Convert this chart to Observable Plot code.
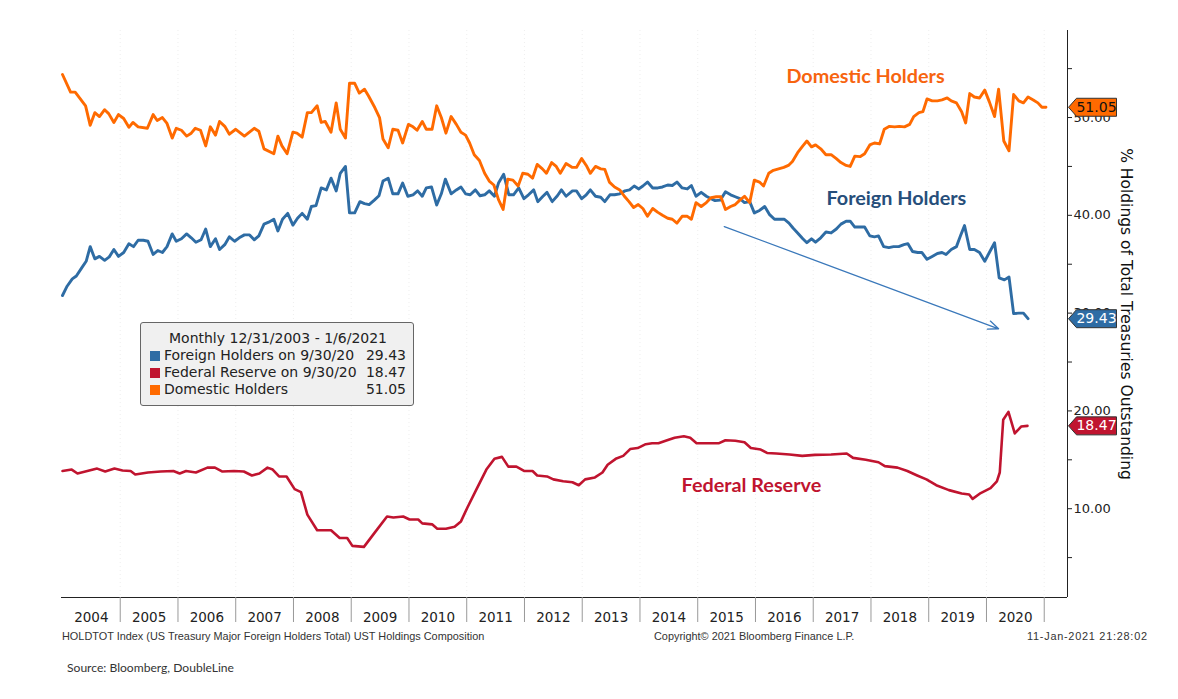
<!DOCTYPE html>
<html>
<head>
<meta charset="utf-8">
<script src="https://cdn.jsdelivr.net/npm/d3@7"></script>
<script src="https://cdn.jsdelivr.net/npm/@observablehq/plot@0.6"></script>
<style>
  body { margin: 0; background: #fff; font-family: "DejaVu Sans", sans-serif; }
  #wrap { position: relative; width: 1178px; height: 699px; overflow: hidden; }
  #legend { position: absolute; left: 140px; top: 322px; width: 256px; padding: 7px 7px 7px 9px;
            background: #f0f0f0; border: 1px solid #666; border-radius: 3px; font-size: 14px; color: #222; line-height: 17px; }
  #legend .title { text-align: center; }
  #legend .row { display: flex; align-items: center; }
  #legend .sw { width: 10px; height: 10px; margin-right: 4px; flex: none; }
  #legend .name { flex: 1; white-space: nowrap; }
  #legend .val { text-align: right; }
  .foot { position: absolute; font-family: "Liberation Sans", sans-serif; font-size: 10.9px; color: #333; white-space: nowrap; }
  .src { position: absolute; font-family: "Lato", sans-serif; font-size: 12.1px; color: #333; white-space: nowrap; }
</style>
</head>
<body>
<div id="wrap"></div>
<script>
// ---------- data (decimal year, % of total treasuries outstanding) ----------
const foreignT = [2004.00,2004.08,2004.17,2004.24,2004.33,2004.41,2004.48,2004.56,2004.64,2004.73,2004.81,2004.89,2004.97,2005.06,2005.15,2005.23,2005.31,2005.40,2005.48,2005.57,2005.65,2005.73,2005.81,2005.90,2005.97,2006.06,2006.15,2006.23,2006.31,2006.40,2006.48,2006.56,2006.65,2006.72,2006.81,2006.89,2006.98,2007.06,2007.15,2007.24,2007.32,2007.40,2007.49,2007.57,2007.66,2007.73,2007.81,2007.90,2007.99,2008.07,2008.15,2008.24,2008.31,2008.39,2008.48,2008.57,2008.65,2008.74,2008.81,2008.90,2008.97,2009.06,2009.15,2009.23,2009.31,2009.40,2009.48,2009.55,2009.64,2009.72,2009.81,2009.89,2009.98,2010.07,2010.15,2010.23,2010.30,2010.39,2010.48,2010.56,2010.63,2010.73,2010.82,2010.90,2010.98,2011.06,2011.15,2011.23,2011.31,2011.39,2011.48,2011.55,2011.64,2011.73,2011.81,2011.90,2011.99,2012.07,2012.16,2012.23,2012.32,2012.39,2012.48,2012.57,2012.64,2012.72,2012.83,2012.90,2012.99,2013.07,2013.14,2013.23,2013.32,2013.39,2013.48,2013.56,2013.65,2013.74,2013.82,2013.90,2013.98,2014.05,2014.13,2014.22,2014.31,2014.39,2014.48,2014.56,2014.64,2014.73,2014.82,2014.89,2014.97,2015.06,2015.15,2015.23,2015.30,2015.39,2015.48,2015.57,2015.65,2015.73,2015.81,2015.90,2015.98,2016.07,2016.16,2016.24,2016.33,2016.42,2016.50,2016.58,2016.65,2016.73,2016.82,2016.89,2016.97,2017.04,2017.13,2017.22,2017.31,2017.40,2017.48,2017.57,2017.64,2017.72,2017.81,2017.89,2017.98,2018.06,2018.13,2018.22,2018.31,2018.39,2018.48,2018.57,2018.64,2018.72,2018.81,2018.88,2018.97,2019.06,2019.15,2019.23,2019.30,2019.39,2019.48,2019.55,2019.62,2019.71,2019.79,2019.88,2019.97,2020.05,2020.14,2020.22,2020.31,2020.39,2020.47,2020.56,2020.64,2020.72];
const foreignV = [31.8,32.75,33.5,33.8,34.6,35.3,36.8,35.55,35.8,35.4,35.75,36.5,35.8,36.2,37.1,36.8,37.45,37.45,37.35,36.0,36.4,36.2,36.8,38.1,37.35,37.6,38.1,37.7,37.25,37.5,38.6,36.8,37.6,36.5,37.0,37.8,37.35,37.7,38.0,38.0,37.5,37.9,39.1,39.3,39.6,38.4,39.6,40.2,39.0,39.7,40.2,39.6,40.9,41.0,42.8,42.6,43.8,42.5,44.3,45.0,40.25,40.25,41.4,41.2,41.1,41.55,42.0,43.5,43.8,42.2,42.2,43.3,41.95,42.1,42.5,41.95,42.8,42.9,41.05,42.2,43.7,42.2,42.6,42.9,42.2,42.1,42.6,42.0,42.1,42.5,41.95,43.3,44.2,42.1,42.1,42.8,41.7,42.1,42.6,41.4,41.95,42.35,41.4,42.0,42.6,41.95,42.5,42.5,41.7,42.1,42.6,41.95,41.85,41.4,42.1,42.1,42.2,42.5,42.6,43.0,42.7,43.0,43.4,42.8,42.8,42.9,43.1,43.05,43.4,42.8,42.7,43.05,41.95,42.35,41.95,41.7,41.5,41.55,42.4,42.1,41.9,41.7,41.3,41.4,40.25,40.5,40.9,40.1,39.6,39.6,39.6,39.2,38.7,38.2,37.6,37.2,37.6,37.25,37.7,38.3,38.2,38.6,39.1,39.4,39.4,38.8,38.8,38.8,37.9,37.8,37.9,36.8,36.7,36.8,36.8,37.0,37.1,36.3,36.2,36.2,35.5,35.8,36.1,36.2,36.0,36.5,36.8,37.9,38.95,36.5,36.5,36.2,35.3,36.2,37.2,33.6,33.4,33.7,29.95,30.0,30.0,29.43];

const domesticT = [2004.00,2004.14,2004.22,2004.40,2004.48,2004.56,2004.64,2004.73,2004.80,2004.89,2004.97,2005.06,2005.15,2005.22,2005.31,2005.47,2005.57,2005.64,2005.73,2005.81,2005.90,2005.97,2006.06,2006.15,2006.23,2006.30,2006.39,2006.48,2006.56,2006.65,2006.72,2006.81,2006.89,2007.00,2007.15,2007.32,2007.40,2007.49,2007.66,2007.73,2007.80,2007.89,2007.99,2008.06,2008.15,2008.24,2008.31,2008.41,2008.48,2008.55,2008.65,2008.74,2008.81,2008.90,2008.97,2009.06,2009.14,2009.23,2009.30,2009.41,2009.49,2009.55,2009.64,2009.72,2009.81,2009.89,2009.99,2010.07,2010.14,2010.23,2010.30,2010.40,2010.48,2010.56,2010.64,2010.73,2010.82,2010.90,2010.98,2011.05,2011.13,2011.22,2011.31,2011.39,2011.47,2011.55,2011.63,2011.71,2011.80,2011.89,2011.97,2012.06,2012.14,2012.22,2012.31,2012.38,2012.47,2012.55,2012.62,2012.72,2012.83,2012.90,2012.99,2013.07,2013.14,2013.23,2013.32,2013.39,2013.47,2013.56,2013.65,2013.73,2013.81,2013.89,2013.97,2014.05,2014.13,2014.22,2014.31,2014.39,2014.48,2014.56,2014.64,2014.73,2014.82,2014.89,2014.97,2015.06,2015.15,2015.23,2015.32,2015.40,2015.48,2015.57,2015.65,2015.73,2015.81,2015.90,2015.98,2016.07,2016.14,2016.23,2016.31,2016.40,2016.49,2016.57,2016.64,2016.73,2016.82,2016.89,2016.97,2017.04,2017.13,2017.22,2017.31,2017.40,2017.48,2017.57,2017.64,2017.72,2017.81,2017.89,2017.98,2018.06,2018.15,2018.23,2018.32,2018.41,2018.49,2018.58,2018.67,2018.74,2018.83,2018.90,2018.97,2019.06,2019.15,2019.23,2019.32,2019.39,2019.48,2019.57,2019.64,2019.71,2019.79,2019.88,2019.97,2020.05,2020.14,2020.21,2020.30,2020.39,2020.47,2020.56,2020.64,2020.72,2020.81,2020.89,2020.96,2021.03];
const domesticV = [54.4,52.6,52.6,51.2,49.2,50.5,50.1,50.8,50.4,49.5,50.3,49.9,49.0,49.5,49.05,48.9,50.3,49.7,50.0,49.4,47.9,48.9,48.7,48.1,48.4,48.9,48.7,47.1,49.05,48.2,49.6,49.1,48.3,48.8,48.1,48.9,48.6,46.8,46.3,48.1,47.1,46.3,48.5,48.4,48.0,50.5,50.5,51.2,49.5,49.6,48.5,51.5,48.8,47.9,53.5,53.5,52.5,52.9,52.2,51.0,50.0,47.8,46.9,48.8,48.7,47.4,49.3,49.05,48.7,49.6,48.8,48.8,51.2,50.0,48.4,50.1,49.3,48.5,48.2,47.4,46.2,45.6,44.3,43.5,43.1,41.6,40.6,43.7,43.6,43.0,44.3,44.2,43.8,45.2,44.75,44.3,45.4,45.0,44.3,45.3,44.9,44.9,45.8,45.1,44.3,45.0,44.75,44.7,43.4,42.9,42.6,41.95,41.4,40.8,41.1,40.7,39.9,40.7,40.3,40.0,39.7,39.6,39.2,39.9,39.9,39.6,41.3,40.9,41.3,41.8,41.9,41.9,40.6,40.9,41.1,41.55,41.95,41.3,43.6,43.4,43.0,44.3,44.6,44.75,44.9,45.1,45.5,46.4,47.1,47.6,47.0,47.2,46.8,46.2,46.2,45.8,45.4,45.1,45.0,46.05,46.0,46.3,47.2,47.4,47.3,48.8,49.1,49.05,49.1,49.05,49.3,50.1,50.5,50.6,51.9,51.7,51.7,51.8,52.0,51.7,51.5,50.6,49.45,52.45,52.1,52.0,52.8,51.6,50.1,52.9,47.6,46.6,52.35,51.7,51.5,52.1,51.8,51.5,51.05,51.05];

const fedT = [2004.00,2004.16,2004.26,2004.43,2004.60,2004.74,2004.90,2005.04,2005.18,2005.26,2005.48,2005.70,2005.92,2006.03,2006.14,2006.31,2006.51,2006.64,2006.77,2006.97,2007.14,2007.28,2007.41,2007.55,2007.64,2007.75,2007.88,2008.02,2008.13,2008.24,2008.41,2008.65,2008.80,2008.93,2009.02,2009.22,2009.40,2009.62,2009.73,2009.90,2010.01,2010.16,2010.23,2010.40,2010.49,2010.64,2010.79,2010.90,2011.01,2011.17,2011.34,2011.48,2011.61,2011.72,2011.86,2012.00,2012.14,2012.22,2012.39,2012.50,2012.67,2012.83,2012.94,2013.05,2013.22,2013.35,2013.44,2013.58,2013.71,2013.83,2013.96,2014.10,2014.21,2014.32,2014.47,2014.60,2014.76,2014.87,2014.98,2015.15,2015.37,2015.48,2015.65,2015.81,2015.92,2016.09,2016.20,2016.36,2016.59,2016.81,2017.03,2017.31,2017.58,2017.69,2017.91,2018.13,2018.24,2018.46,2018.63,2018.80,2018.96,2019.13,2019.35,2019.57,2019.70,2019.76,2019.90,2020.07,2020.18,2020.23,2020.29,2020.38,2020.49,2020.60,2020.71];
const fedV = [13.85,14.0,13.6,13.85,14.1,13.8,14.1,13.9,13.85,13.5,13.7,13.8,13.85,13.6,13.85,13.7,14.2,14.2,13.8,13.85,13.8,13.4,13.6,14.2,14.0,13.3,13.3,12.0,11.7,9.4,7.8,7.8,7.0,7.0,6.2,6.1,7.5,9.2,9.1,9.2,8.9,8.9,8.5,8.4,7.95,7.95,8.15,8.7,10.1,12.0,14.0,15.1,15.3,14.3,14.3,13.85,13.85,13.4,13.3,13.0,12.8,12.7,12.4,13.0,13.2,13.7,14.5,15.1,15.4,16.1,16.2,16.6,16.7,16.7,17.0,17.25,17.4,17.25,16.7,16.7,16.7,17.0,16.95,16.8,16.2,16.05,15.7,15.65,15.55,15.4,15.5,15.55,15.65,15.2,15.0,14.75,14.35,14.2,13.85,13.4,13.0,12.4,11.9,11.55,11.45,11.0,11.6,12.1,12.8,13.7,19.1,19.9,17.7,18.4,18.47];

const seriesNames  = ["Foreign Holders on 9/30/20", "Federal Reserve on 9/30/20", "Domestic Holders"];
const seriesLast   = [29.43, 18.47, 51.05];
const seriesColors = ["#2e6ca4", "#c0142f", "#ff6a00"];
const tagTextColors = ["#ffffff", "#ffffff", "#111111"];

const yearLabels = [2004,2005,2006,2007,2008,2009,2010,2011,2012,2013,2014,2015,2016,2017,2018,2019,2020];
const yearBounds = [2005,2006,2007,2008,2009,2010,2011,2012,2013,2014,2015,2016,2017,2018,2019,2020,2021];
const yMajor = [10, 20, 30, 40, 50];
const yMinor = [5, 15, 25, 35, 45, 55];

const notes = [
  {x: 2017.905, y: 54.19, text: "Domestic Holders", color: "#f7640f"},
  {x: 2018.44,  y: 41.72, text: "Foreign Holders",  color: "#264e7a"},
  {x: 2015.93,  y: 12.37, text: "Federal Reserve",  color: "#c0142f"}
];
const trendArrow = [{x1: 2015.46, y1: 38.85, x2: 2020.21, y2: 28.4}];

const legendTitle = "Monthly 12/31/2003 - 1/6/2021";
const yTitle = "% Holdings of Total Treasuries Outstanding";
const footLeft = "HOLDTOT Index (US Treasury Major Foreign Holders Total) UST Holdings Composition";
const footMid = "Copyright\u00A9 2021 Bloomberg Finance L.P.";
const footRight = "11-Jan-2021 21:28:02";
const sourceText = "Source: Bloomberg, DoubleLine";

// ---------- build ----------
const toRows = (T, V) => T.map((t, i) => ({t, v: V[i]}));
const foreign = toRows(foreignT, foreignV);
const domestic = toRows(domesticT, domesticV);
const fed = toRows(fedT, fedV);
const tags = seriesLast.map((v, i) => ({v, fill: seriesColors[i], tc: tagTextColors[i]}));

const xMin = 2003.983, xMax = 2021.403;
const yMin = 0.92, yMax = 58.9;

const tagShape = {
  draw(ctx) {
    ctx.moveTo(0, 0);
    ctx.lineTo(8, -9);
    ctx.lineTo(48, -9);
    ctx.lineTo(48, 9);
    ctx.lineTo(8, 9);
    ctx.closePath();
  }
};

const chart = Plot.plot({
  width: 1178,
  height: 630,
  marginTop: 30,
  marginBottom: 33,
  marginLeft: 61,
  marginRight: 111,
  x: {domain: [xMin, xMax], label: null},
  y: {domain: [yMin, yMax], label: null},
  color: {type: "identity"},
  style: {fontFamily: "DejaVu Sans", fontSize: "13px", color: "#222", background: "transparent", overflow: "visible"},
  marks: [
    Plot.gridX(yearBounds, {stroke: "#e0e0e0", strokeOpacity: 0.5, strokeDasharray: "1,3"}),
    Plot.line(foreign, {x: "t", y: "v", stroke: seriesColors[0], strokeWidth: 2.9, strokeLinejoin: "round"}),
    Plot.line(fed, {x: "t", y: "v", stroke: seriesColors[1], strokeWidth: 2.6, strokeLinejoin: "round"}),
    Plot.line(domestic, {x: "t", y: "v", stroke: seriesColors[2], strokeWidth: 2.9, strokeLinejoin: "round"}),
    Plot.arrow(trendArrow, {x1: "x1", y1: "y1", x2: "x2", y2: "y2", stroke: "#3a78ba", strokeWidth: 1.3, headLength: 13, headAngle: 45}),
    Plot.text(notes, {x: "x", y: "y", text: "text", fill: "color", fontFamily: "Lato", fontWeight: "bold", fontSize: 19.8}),
    Plot.ruleY([yMin], {stroke: "#222", strokeWidth: 1}),
    Plot.ruleX([xMax], {stroke: "#222", strokeWidth: 1}),
    Plot.axisX(yearBounds, {tickSize: 25, tickFormat: () => "", stroke: "#999", label: null}),
    Plot.axisX(yearLabels.map(y => y + 0.5), {tickSize: 0, tickPadding: 15, tickFormat: d => String(Math.floor(d)), fontSize: 13.5, fill: "#222", label: null}),
    Plot.axisY(yMajor, {anchor: "right", tickSize: 4, tickPadding: 2, tickFormat: d => d.toFixed(2), fill: "#222", stroke: "#222", label: null}),
    Plot.axisY(yMinor, {anchor: "right", tickSize: 4, tickFormat: () => "", stroke: "#222", label: null}),
    Plot.text([yTitle], {frameAnchor: "right", dx: 58, rotate: 90, textAnchor: "middle", fontSize: 15.5, fill: "#111", text: d => d}),
    Plot.dot(tags, {y: "v", frameAnchor: "right", dx: 1, symbol: tagShape, r: 5, fill: "fill", stroke: "#333", strokeWidth: 1}),
    Plot.text(tags, {y: "v", frameAnchor: "right", dx: 29, text: d => d.v.toFixed(2), fill: "tc", fontSize: 14, textAnchor: "middle"})
  ]
});

const wrap = document.getElementById("wrap");
wrap.appendChild(chart);

// legend box
const lg = document.createElement("div");
lg.id = "legend";
const tt = document.createElement("div");
tt.className = "title";
tt.textContent = legendTitle;
lg.appendChild(tt);
seriesNames.forEach((n, i) => {
  const row = document.createElement("div");
  row.className = "row";
  const sw = document.createElement("span"); sw.className = "sw"; sw.style.background = seriesColors[i];
  const nm = document.createElement("span"); nm.className = "name"; nm.textContent = n;
  const vl = document.createElement("span"); vl.className = "val"; vl.textContent = seriesLast[i].toFixed(2);
  row.append(sw, nm, vl);
  lg.appendChild(row);
});
wrap.appendChild(lg);

function addText(cls, txt, left, top, extra) {
  const d = document.createElement("div");
  d.className = cls; d.textContent = txt;
  d.style.left = left + "px"; d.style.top = top + "px";
  if (extra) Object.assign(d.style, extra);
  wrap.appendChild(d);
}
addText("foot", footLeft, 62, 630);
addText("foot", footMid, 654, 630);
addText("foot", footRight, 1027, 630, {letterSpacing: "0.75px"});
addText("src", sourceText, 67, 660);
</script>
</body>
</html>
